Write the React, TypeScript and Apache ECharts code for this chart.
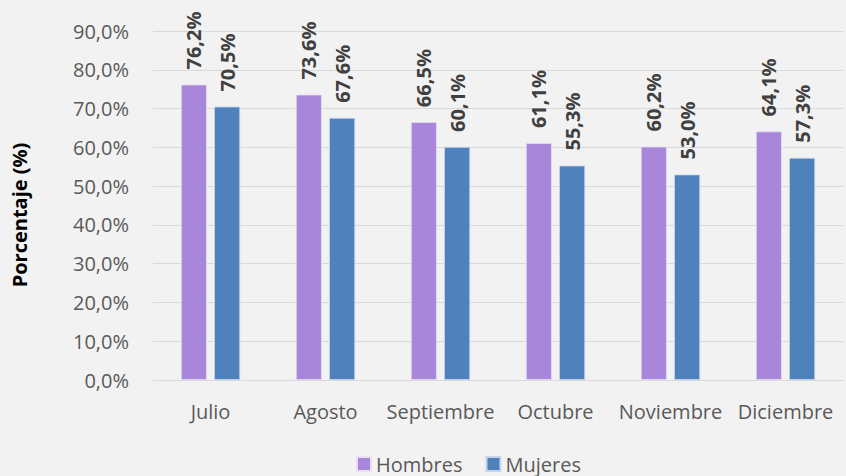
import React, { useEffect, useRef } from "react";
import * as echarts from "echarts";

const categories = ["Julio", "Agosto", "Septiembre", "Octubre", "Noviembre", "Diciembre"];
const hombres = [76.2, 73.6, 66.5, 61.1, 60.2, 64.1];
const mujeres = [70.5, 67.6, 60.1, 55.3, 53.0, 57.3];

const FONT = "Open Sans";
const fmt = (v: number) => v.toFixed(1).replace(".", ",") + "%";

export default function App() {
  const ref = useRef<HTMLDivElement>(null);
  useEffect(() => {
    const chart = echarts.init(ref.current!, null, { renderer: "svg" });
    const labelCfg = {
      show: true,
      position: "top",
      rotate: 90,
      align: "left",
      verticalAlign: "middle",
      distance: 15,
      fontFamily: FONT,
      fontSize: 20,
      fontWeight: "bold",
      color: "#404040",
      formatter: (p: any) => fmt(p.value),
    };
    chart.setOption({
      animation: false,
      backgroundColor: "#F2F2F2",
      textStyle: { fontFamily: FONT },
      grid: { left: 153, right: 3, top: 31, bottom: 96 },
      legend: {
        bottom: -3,
        left: 351,
        itemWidth: 14,
        itemHeight: 14,
        itemGap: 23,
        icon: "rect",
        textStyle: { fontFamily: FONT, fontSize: 20, color: "#595959" },
        data: ["Hombres", "Mujeres"],
      },
      graphic: [
        {
          type: "text",
          x: 19,
          y: 215,
          rotation: Math.PI / 2,
          style: {
            text: "Porcentaje (%)",
            fontFamily: FONT,
            fontSize: 20,
            fontWeight: "bold",
            fill: "#000000",
            align: "center",
            verticalAlign: "middle",
          },
        },
      ],
      xAxis: {
        type: "category",
        data: categories,
        axisLine: { lineStyle: { color: "#D9D9D9", width: 1 } },
        axisTick: { show: false },
        axisLabel: {
          fontFamily: FONT,
          fontSize: 20,
          color: "#595959",
          margin: 21,
          interval: 0,
          hideOverlap: false,
        },
      },
      yAxis: {
        type: "value",
        min: 0,
        max: 90,
        interval: 10,
        axisLine: { show: false },
        axisTick: { show: false },
        splitLine: { lineStyle: { color: "#D9D9D9", width: 1 } },
        axisLabel: {
          fontFamily: FONT,
          fontSize: 20,
          color: "#595959",
          margin: 24,
          formatter: (v: number) => fmt(v),
        },
      },
      series: [
        {
          name: "Hombres",
          type: "bar",
          data: hombres,
          barWidth: 26,
          barGap: "28%",
          itemStyle: { color: "#A886DA", borderColor: "#E6E0F2", borderWidth: 0.8 },
          label: labelCfg,
        },
        {
          name: "Mujeres",
          type: "bar",
          data: mujeres,
          barWidth: 26,
          itemStyle: { color: "#4F81BD", borderColor: "#C9D6EA", borderWidth: 0.8 },
          label: labelCfg,
        },
      ],
    });
    return () => chart.dispose();
  }, []);
  return <div ref={ref} style={{ width: 846, height: 476, position: "absolute", left: 0, top: 0 }} />;
}
